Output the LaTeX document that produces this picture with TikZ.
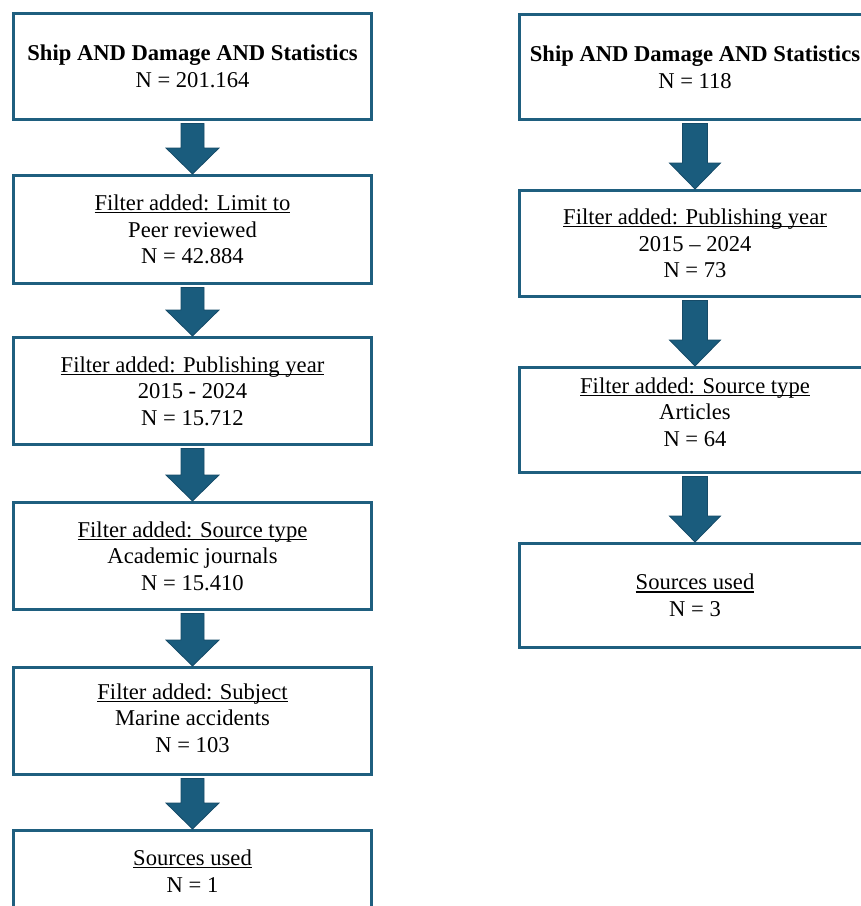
\documentclass[tikz,border=0pt]{standalone}
\usepackage{fontspec}
\setmainfont{Liberation Serif}
\usetikzlibrary{calc}
\definecolor{boxblue}{HTML}{1F5F7F}
\definecolor{arrowblue}{HTML}{1A5C7D}
\definecolor{arrowedge}{HTML}{164B68}
\newcommand\myul[1]{\setbox0\hbox{#1}\rlap{\rule[-2.6pt]{\wd0}{1.1pt}}\box0}
\newcommand\flowarrow[4]{% from, to, half shaft, half head
  \fill[arrowblue,draw=arrowedge,line width=0.8pt,line join=miter]
    let \p1=(#1.south), \p2=(#2.north) in
    ($(\x1-#3,\y1-2.5pt)$) -- ($(\x1+#3,\y1-2.5pt)$) -- ($(\x1+#3,\y2+26pt)$)
    -- ($(\x1+#4,\y2+26pt)$) -- ($(\x1,\y2)$) -- ($(\x1-#4,\y2+26pt)$)
    -- ($(\x1-#3,\y2+26pt)$) -- cycle;}
\begin{document}
\begin{tikzpicture}[x=1pt,y=-1pt,
  boxtext/.style={align=center,inner sep=0pt,font=\fontsize{22.6}{26.6}\selectfont},
  flowbox/.style={boxtext,draw=boxblue,line width=3pt,fill=white,rectangle},
  lbox/.style={flowbox,minimum width=358pt},
  rbox/.style={flowbox,minimum width=351pt}]
\useasboundingbox (0,0) rectangle (861,906);
\clip (0,0) rectangle (861,906);
\fill[white] (0,0) rectangle (861,906);
% left column
\node[lbox,minimum height=106pt] (L1) at (192.5,66.5) {\textbf{Ship AND Damage AND Statistics}\\N = 201.164};
\node[lbox,minimum height=108pt] (L2) at (192.5,229.5) {\myul{Filter added: Limit to}\\Peer reviewed\\N = 42.884};
\node[lbox,minimum height=107pt] (L3) at (192.5,391) {\myul{Filter added: Publishing year}\\2015 - 2024\\N = 15.712};
\node[lbox,minimum height=107pt] (L4) at (192.5,556) {\myul{Filter added: Source type}\\Academic journals\\N = 15.410};
\node[lbox,minimum height=107pt] (L5) at (192.5,721) {};
\node[boxtext] (L5t) at (192.5,718) {\myul{Filter added: Subject}\\Marine accidents\\N = 103};
\node[lbox,minimum height=107pt] (L6) at (192.5,884) {};
\node[boxtext] (L6t) at (192.5,871) {\myul{Sources used}\\N = 1};
% right column
\node[rbox,minimum height=105pt] (R1) at (695,67) {\textbf{Ship AND Damage AND Statistics}\\N = 118};
\node[rbox,minimum height=106pt] (R2) at (695,243.5) {\myul{Filter added: Publishing year}\\2015 – 2024\\N = 73};
\node[rbox,minimum height=105pt] (R3) at (695,420) {};
\node[boxtext] (R3t) at (695,412) {\myul{Filter added: Source type}\\Articles\\N = 64};
\node[rbox,minimum height=104pt] (R4) at (695,595.5) {\myul{Sources used}\\N = 3};
% arrows
\flowarrow{L1}{L2}{11.5pt}{26.5pt}
\flowarrow{L2}{L3}{11.5pt}{26.5pt}
\flowarrow{L3}{L4}{11.5pt}{26.5pt}
\flowarrow{L4}{L5}{11.5pt}{26.5pt}
\flowarrow{L5}{L6}{11.5pt}{26.5pt}
\flowarrow{R1}{R2}{12.5pt}{25.5pt}
\flowarrow{R2}{R3}{12.5pt}{25.5pt}
\flowarrow{R3}{R4}{12.5pt}{25.5pt}
\end{tikzpicture}
\end{document}
